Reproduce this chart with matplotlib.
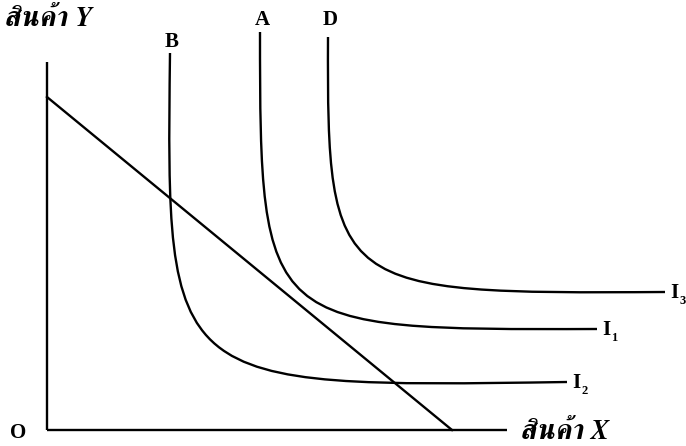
import matplotlib
matplotlib.use("Agg")
import matplotlib.pyplot as plt
from matplotlib.path import Path
from matplotlib.patches import PathPatch

# points (origin at O, x right, y up)
# each curve: top end, two bend handles, right end
b_x = [123, 119, 119, 520]
b_y = [377, 42, 42, 48]

a_x = [213, 213, 216, 550]
a_y = [398, 100, 100, 101]

d_x = [281, 280, 287, 618]
d_y = [393, 138, 136, 138]

curve_names = ["3", "1", "2"]

budget_x = [0, 405]
budget_y = [333, 0]

axis_y_top = 368
axis_x_end = 460

fig = plt.figure(figsize=(6.86, 4.46), dpi=100)
ax = fig.add_axes([0, 0, 1, 1])
ax.set_xlim(-47, 639)
ax.set_ylim(-16, 430)
ax.axis("off")

lw = 1.7
ax.plot([0, 0], [0, axis_y_top], color="black", lw=lw, solid_capstyle="butt")
ax.plot([0, axis_x_end], [0, 0], color="black", lw=lw, solid_capstyle="butt")
ax.plot(budget_x, budget_y, color="black", lw=lw)

codes = [Path.MOVETO, Path.CURVE4, Path.CURVE4, Path.CURVE4]
for xs, ys in [(d_x, d_y), (a_x, a_y), (b_x, b_y)]:
    p = Path(list(zip(xs, ys)), codes)
    ax.add_patch(PathPatch(p, fill=False, edgecolor="black", lw=lw))

thai = dict(family=["FreeSerif", "DejaVu Serif"], fontweight="bold",
            fontstyle="italic", fontsize=20)
lab = dict(family="Liberation Serif", fontweight="bold", fontsize=15)

ax.text(-43, 411, "สินค้า Y", ha="left", va="center", **thai)
ax.text(473, -2, "สินค้า X", ha="left", va="center", **thai)
ax.text(-29, -3, "O", ha="center", va="center", **lab)
ax.text(125, 388, "B", ha="center", va="center", **lab)
ax.text(215, 410, "A", ha="center", va="center", **lab)
ax.text(283, 410, "D", ha="center", va="center", **lab)

for n, xs, ys in zip(curve_names, [d_x, a_x, b_x], [d_y, a_y, b_y]):
    x, y = xs[-1], ys[-1]
    ax.text(x + 5, y - 1, "I", ha="left", va="center", **lab)
    ax.text(x + 14, y - 9, n, ha="left", va="center",
            family="Liberation Serif", fontweight="bold", fontsize=9)

fig.savefig("out.png", dpi=100)
